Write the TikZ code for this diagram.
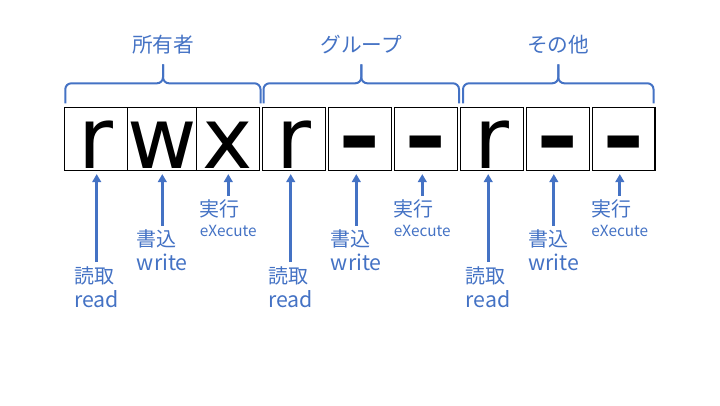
\documentclass[tikz,border=0pt]{standalone}
\usepackage{fontspec}
\setmainfont{Noto Sans CJK JP}
\newfontfamily\cellfont{DejaVu Sans}
\usetikzlibrary{arrows.meta}
\definecolor{permblue}{RGB}{68,114,196}
\newcommand\permdash{\raisebox{2pt}{\scalebox{1.2}[1]{\bfseries -}}}

\begin{document}
\begin{tikzpicture}[x=0.75pt,y=0.75pt,yscale=-1,xscale=1,
  cell/.style={draw=black,line width=1pt,minimum width=47.2pt,minimum height=47.6pt,inner sep=0pt,text height=46.1pt,text depth=1.5pt,font=\cellfont\fontsize{63.75}{64}\selectfont},
  brace/.style={draw=permblue,line width=1.5pt,rounded corners=4.5pt},
  grouplbl/.style={text=permblue,inner sep=0pt,font=\fontsize{15.5}{18}\selectfont},
  permlbl/.style={text=permblue,align=left,anchor=north,inner sep=0pt,font=\fontsize{15}{18}\selectfont},
  pointer/.style={draw=permblue,line width=2.2pt,shorten <=3pt,shorten >=2pt,-{Triangle[length=6pt,width=6.5pt]}}]
\path[use as bounding box] (0,0) rectangle (720,405);

%Shape: Rectangle (permission cells)
\foreach \ch [count=\i] in {r,w,x,r,\permdash,\permdash,r,\permdash,\permdash}
  \node[cell] (b\i) at (96+65.96*\i-65.96,139) {\ch};

%Curve Lines (braces)
\foreach \l/\r/\m in {65.3/260.5/163, 263.5/459/361.3, 463/653.5/558.3}{
  \draw[brace] (\l,103.3) |- (\m,83.3) -- (\m,64.3) ;
  \draw[brace] (\r,103.3) |- (\m,83.3) -- (\m,64.3) ;
}

% Text Node
\node[grouplbl] (owner) at (163,45) {所有者};
% Text Node
\node[grouplbl] (group) at (361.3,45) {グループ};
% Text Node
\node[grouplbl] (other) at (558.3,45) {その他};

%Straight Lines (read / write / execute)
\foreach \g/\dx in {1/0, 2/194, 3/391.5}{
  \pgfmathtruncatemacro\ir{3*\g-2}
  \pgfmathtruncatemacro\iw{3*\g-1}
  \pgfmathtruncatemacro\ix{3*\g}
  \node[permlbl] (rd\g) at (96.7+\dx,266) {読取\\{\fontsize{16}{18}\selectfont read}};
  \node[permlbl] (wr\g) at (162.3+\dx,229.5) {書込\\{\fontsize{16}{18}\selectfont write}};
  \node[permlbl] (ex\g) at (228.3+\dx,199.5) {実行\\[-3pt]{\fontsize{11.5}{13}\selectfont eXecute}};
  \draw[pointer] (rd\g.north) -- (rd\g.north |- b\ir.south) ;
  \draw[pointer] (wr\g.north) -- (wr\g.north |- b\iw.south) ;
  \draw[pointer] (ex\g.north) -- (ex\g.north |- b\ix.south) ;
}

\end{tikzpicture}
\end{document}
